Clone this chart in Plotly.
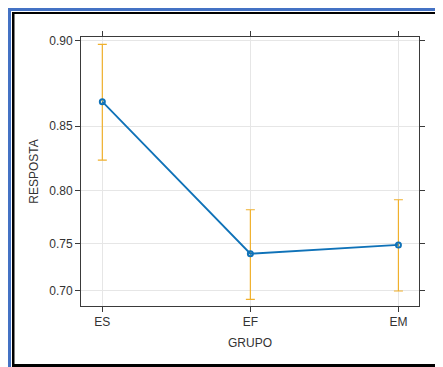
import numpy as np
import plotly.graph_objects as go

# ---- data (y axis is on a logit scale) ----
grupos = ["ES", "EF", "EM"]
resposta = [0.866, 0.740, 0.749]
superior = [0.898, 0.783, 0.792]
inferior = [0.825, 0.690, 0.6995]
y_ticks = [0.70, 0.75, 0.80, 0.85, 0.90]
y_tick_labels = ["0.70", "0.75", "0.80", "0.85", "0.90"]


def logit(p):
    p = np.asarray(p, dtype=float)
    return np.log(p / (1 - p))


y_mid = logit(resposta)
err_up = logit(superior) - y_mid
err_dn = y_mid - logit(inferior)

# page body adds an 8px margin, so the figure fills the rest of the window
W, H = 435, 359
L, R, T, B = 73, 24, 29, 61
PW, PH = W - L - R, H - T - B

LINE = "#0f72b8"
ERR = "#f0b02c"
AX = "#3a3a3a"
FONT = dict(family="Liberation Sans, Arial, sans-serif", size=12, color="#333333")

fig = go.Figure()
fig.add_trace(go.Scatter(
    x=grupos, y=y_mid, mode="markers",
    marker=dict(size=1, color="rgba(0,0,0,0)"),
    error_y=dict(type="data", symmetric=False, array=err_up, arrayminus=err_dn,
                 color=ERR, thickness=1.2, width=4.5),
    hoverinfo="skip", showlegend=False,
))
fig.add_trace(go.Scatter(
    x=grupos, y=y_mid, mode="lines+markers",
    line=dict(color=LINE, width=1.8),
    marker=dict(symbol="circle-open", size=5, color=LINE, line=dict(width=2, color=LINE)),
    showlegend=False,
))


def px_x(px):
    return (px - L) / PW


def px_y(py):
    return (H - B - py) / PH


def frame_rect(x0, y0, x1, y1, color):
    return dict(type="rect", xref="paper", yref="paper",
                x0=px_x(x0), x1=px_x(x1), y0=px_y(y1), y1=px_y(y0),
                fillcolor=color, line=dict(width=0), layer="above")


shapes = [
    frame_rect(0, 0, W, 3, "#4472c4"),
    frame_rect(0, 0, 3, H, "#4472c4"),
    frame_rect(4, 4, W, 6, "#000000"),
    frame_rect(4, 4, 6.5, H, "#000000"),
    frame_rect(4, 356, W, H, "#000000"),
]

fig.update_layout(
    width=W, height=H,
    margin=dict(l=L, r=R, t=T, b=B),
    paper_bgcolor="white", plot_bgcolor="white",
    font=FONT,
    shapes=shapes,
    xaxis=dict(
        type="category", range=[-0.144, 2.139],
        showgrid=True, gridcolor="#e6e6e6", gridwidth=1,
        showline=True, linecolor=AX, linewidth=1, mirror="ticks",
        ticks="outside", ticklen=5, tickcolor=AX, tickwidth=1,
        tickfont=FONT, zeroline=False,
        title=dict(text="GRUPO", font=FONT, standoff=10),
    ),
    yaxis=dict(
        range=[0.764, 2.215],
        tickvals=list(logit(y_ticks)), ticktext=y_tick_labels,
        showgrid=True, gridcolor="#e6e6e6", gridwidth=1,
        showline=True, linecolor=AX, linewidth=1, mirror="ticks",
        ticks="outside", ticklen=5, tickcolor=AX, tickwidth=1,
        tickfont=FONT, zeroline=False,
        title=dict(text="RESPOSTA", font=FONT, standoff=8),
    ),
)

fig.write_html("out.html")
